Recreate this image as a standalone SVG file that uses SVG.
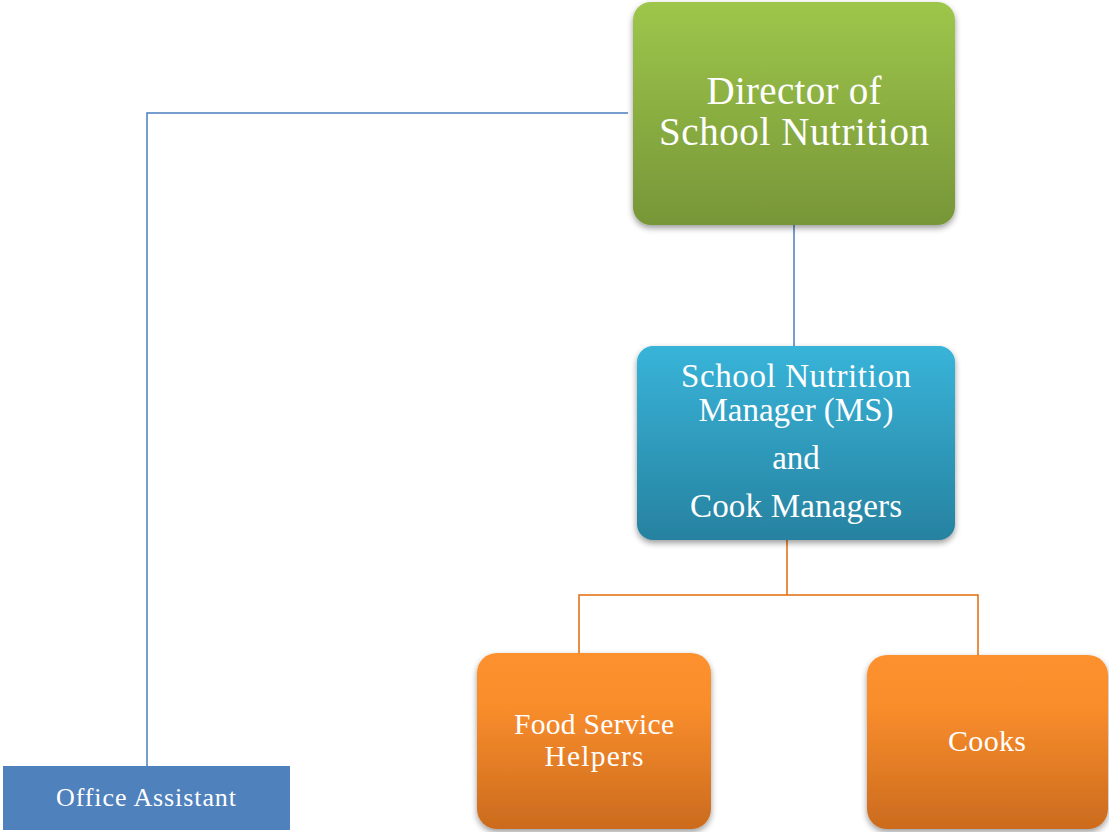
<svg xmlns="http://www.w3.org/2000/svg" width="1109" height="832" viewBox="0 0 1109 832">
<style>
.t{font-family:"Liberation Serif","DejaVu Serif",serif;fill:#fff;text-anchor:middle}
.cb{fill:none;stroke:#4a7ebb;stroke-width:1.5}
.co{fill:none;stroke:#e46c0a;stroke-width:1.5}
</style>
<defs>
<linearGradient id="gG" x1="0" y1="0" x2="0" y2="1"><stop offset="0" stop-color="#9ec64b"/><stop offset="1" stop-color="#779638"/></linearGradient>
<linearGradient id="gB" x1="0" y1="0" x2="0" y2="1"><stop offset="0" stop-color="#38b4d9"/><stop offset="1" stop-color="#2782a0"/></linearGradient>
<linearGradient id="gO" x1="0" y1="0" x2="0" y2="1"><stop offset="0" stop-color="#fd912d"/><stop offset="0.3" stop-color="#f98d2c"/><stop offset="1" stop-color="#cb6b1e"/></linearGradient>
<filter id="sh" x="-10%" y="-10%" width="120%" height="125%"><feGaussianBlur in="SourceAlpha" stdDeviation="3"/><feOffset dx="0" dy="3"/><feComponentTransfer><feFuncA type="linear" slope="0.4"/></feComponentTransfer><feMerge><feMergeNode/><feMergeNode in="SourceGraphic"/></feMerge></filter>
</defs>
<g id="connectors">
<path class="cb" d="M628,113 H147 V766"/>
<path class="cb" d="M794,225 V346"/>
<path class="co" d="M787,540 V595 M579,655 V595 H978 V655"/>
</g>
<g id="director">
<rect x="633" y="2" width="322" height="223" rx="18" fill="url(#gG)" filter="url(#sh)"/>
<text class="t" font-size="39" x="794" y="104" textLength="175">Director of</text>
<text class="t" font-size="39" x="794" y="145" textLength="270">School Nutrition</text>
</g>
<g id="manager">
<rect x="637" y="346" width="318" height="194" rx="16" fill="url(#gB)" filter="url(#sh)"/>
<text class="t" font-size="33" x="796" y="387" textLength="230">School Nutrition</text>
<text class="t" font-size="33" x="796" y="421" textLength="195">Manager (MS)</text>
<text class="t" font-size="33" x="796" y="469">and</text>
<text class="t" font-size="33" x="796" y="517" textLength="212">Cook Managers</text>
</g>
<g id="helpers">
<rect x="477" y="653" width="234" height="176" rx="20" fill="url(#gO)" filter="url(#sh)"/>
<text class="t" font-size="29.5" x="594" y="734" textLength="160">Food Service</text>
<text class="t" font-size="29.5" x="594" y="766" textLength="99">Helpers</text>
</g>
<g id="cooks">
<rect x="867" y="655" width="241" height="174" rx="20" fill="url(#gO)" filter="url(#sh)"/>
<text class="t" font-size="30" x="987" y="751" textLength="78">Cooks</text>
</g>
<g id="office">
<rect x="3" y="766" width="287" height="64" fill="#4f81bd"/>
<text class="t" font-size="26" x="146" y="806" textLength="180">Office Assistant</text>
</g>
</svg>
